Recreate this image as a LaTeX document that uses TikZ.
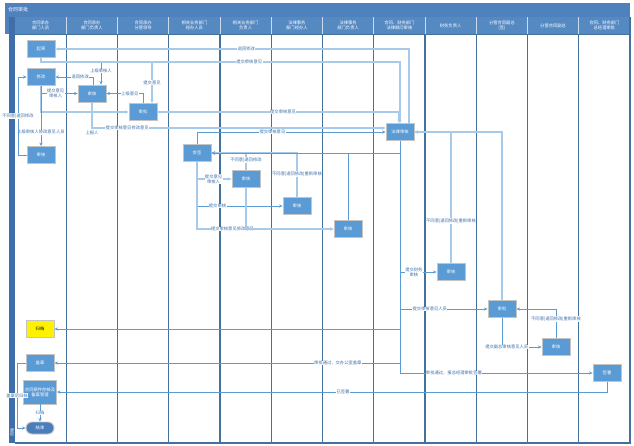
\documentclass[tikz,border=0pt]{standalone}
\usepackage{fontspec}
\newfontfamily\cjk{Noto Sans CJK SC}
\usetikzlibrary{arrows.meta}
\definecolor{titlec}{HTML}{4F81BD}
\definecolor{hdrc}{HTML}{5589C2}
\definecolor{stripc}{HTML}{3F6FA8}
\definecolor{lanec}{HTML}{41719C}
\definecolor{boxfill}{HTML}{5B9BD5}
\definecolor{boxline}{HTML}{C4C4C4}
\definecolor{lightln}{HTML}{A7CAEB}
\definecolor{midln}{HTML}{5B9BD5}
\definecolor{lblc}{HTML}{3D6FA8}
\definecolor{termc}{HTML}{4A7EBB}
\begin{document}
\begin{tikzpicture}[x=1pt,y=-1pt,
  font=\cjk\fontsize{4.3}{5}\selectfont,
  box/.style={draw=boxline, line width=0.9pt, fill=boxfill, text=white,
    minimum width=28pt, minimum height=17pt, inner sep=0pt, align=center},
  hdrtext/.style={text=white, align=center, inner sep=0pt, font=\cjk\fontsize{4.3}{5.2}\selectfont},
  tip/.style={-{Stealth[length=3.5pt,width=3.2pt]}},
  lt/.style={draw=lightln, line width=1.4pt, tip},
  md/.style={draw=midln, line width=0.8pt, tip},
  lbl/.style={fill=white, text=lblc, inner sep=0.4pt, align=center,
    font=\cjk\fontsize{4.3}{4.8}\selectfont}
]
\path[use as bounding box] (0,0) rectangle (634,446);
% frame
\fill[titlec] (5,3) rectangle (630,17);
\fill[titlec] (5,17) rectangle (9,34);
\fill[hdrc] (15,17) rectangle (630,34);
\fill[stripc] (9,17) rectangle (15,443);
\node[text=white, anchor=west, inner sep=0pt, font=\cjk\fontsize{5}{6}\selectfont] (title) at (8,10) {合同审批};
\node[text=white, rotate=90, inner sep=0pt, font=\cjk\fontsize{4}{5}\selectfont] (pool) at (12,432) {流程};
\foreach \i in {1,...,11} {
  \draw[white!70!hdrc, line width=0.6pt] ({15+51.25*\i},17) -- ({15+51.25*\i},34);
  \draw[lanec, line width=1.2pt] ({15+51.25*\i},34) -- ({15+51.25*\i},443);
}
\draw[lanec, line width=1.2pt] (15,443) -- (630,443) -- (630,17);
\draw[lanec, line width=0.8pt] (15,34) -- (630,34);
% lane headers
\node[hdrtext] (h1) at (40.6,25.5) {合同承办\\部门人员};
\node[hdrtext] (h2) at (91.9,25.5) {合同承办\\部门负责人};
\node[hdrtext] (h3) at (143.1,25.5) {合同承办\\分管领导};
\node[hdrtext] (h4) at (194.4,25.5) {相关业务部门\\经办人员};
\node[hdrtext] (h5) at (245.6,25.5) {相关业务部门\\负责人};
\node[hdrtext] (h6) at (296.9,25.5) {法律事务\\部门经办人};
\node[hdrtext] (h7) at (348.1,25.5) {法律事务\\部门负责人};
\node[hdrtext] (h8) at (399.4,25.5) {合同、财务部门\\法律顾问审核};
\node[hdrtext] (h9) at (450.6,25.5) {财务负责人};
\node[hdrtext] (h10) at (501.9,25.5) {分管合同副总\\(签)};
\node[hdrtext] (h11) at (553.1,25.5) {分管合同副总};
\node[hdrtext] (h12) at (604.4,25.5) {合同、财务部门\\总经理审批};
% nodes
\node[box] (n1) at (41,49) {起草};
\node[box] (n2) at (41,77) {修改};
\node[box] (n3) at (41,155) {审核};
\node[box, fill=yellow, text=black] (ny) at (40,329) {归档};
\node[box] (n4) at (40,363) {盖章};
\node[box, minimum width=33pt, minimum height=24pt] (n5) at (40,392) {合同原件存档及\\备案管理};
\node[box, fill=termc, rounded corners=6pt, minimum height=12pt] (nend) at (40,428) {结束};
\node[box] (b1) at (92,93.5) {审核};
\node[box] (c1) at (143,112) {审批};
\node[box] (d1) at (197,153) {会签};
\node[box] (e1) at (246,179) {审核};
\node[box] (f1) at (297,206) {审核};
\node[box] (g1) at (348,229) {审核};
\node[box] (sh) at (400,132) {法律审核};
\node[box] (i1) at (451,272) {审核};
\node[box] (j1) at (502,309) {审批};
\node[box] (k1) at (556,347) {审核};
\node[box] (l1) at (607,373) {签署};
% helper coordinates
\coordinate (bus1) at (0,62);
\coordinate (lx) at (18,0);
\coordinate (lx2) at (17,0);
% connectors
\draw[lt] ([xshift=9pt]sh.north) |- node[lbl,pos=0.73]{退回修改} (n1.east);
\draw[lt] (n1.south) |- node[lbl,pos=0.79]{提交审核意见} (sh.north |- bus1) -- (sh.north);
\draw[md] (n1.south) |- ([xshift=9pt]b1.north |- bus1) -- node[lbl,pos=0.4]{上级审核人} ([xshift=9pt]b1.north);
\draw[lt] (n1.south) |- ([xshift=9pt]c1.north |- bus1) -- node[lbl,pos=0.5]{提交意见} ([xshift=9pt]c1.north);
\draw[md] ([xshift=1pt]b1.north) |- node[lbl,pos=0.67]{退回修改} (n2.east);
\draw[md] (n2.south) |- node[lbl,pos=0.7]{提交意见\\审核人} (b1.west);
\draw[lt] (n2.south) |- (c1.west);
\draw[md] (n2.south) -- node[lbl,pos=0.77]{上级审核人修改意见人员} (n3.north);
\draw[md] (n3.west) -| node[lbl,pos=0.75]{不同意|退回修改} (lx |- n2.west) -- (n2.west);
\draw[md] (c1.north) |- node[lbl,pos=0.68]{上级意见} (b1.east);
\draw[lt] (c1.east) -| node[lbl,pos=0.26]{提交审核意见} ([xshift=-1pt]sh.north);
\draw[lt] (b1.south) |- node[lbl,pos=0.5,yshift=-5pt]{上报人} node[lbl,pos=0.56]{提交审核意见修改意见} ([yshift=4pt]sh.west);
\draw[md] (d1.north) |- node[lbl,pos=0.70]{提交审核意见} (sh.west);
\draw[md] (sh.south) |- (d1.east);
\draw[lt] (e1.north) |- node[lbl,pos=0.3]{不同意|退回修改} (d1.east);
\draw[lt] (f1.north) |- node[lbl,pos=0.26]{不同意|退回修改|重新审核} (d1.east);
\draw[md] (g1.north) |- (d1.east);
\draw[lt] (d1.south) |- node[lbl,pos=0.74]{提交意见\\审核人} (e1.west);
\draw[md] (d1.south) |- node[lbl,pos=0.62]{提交审核} (f1.west);
\draw[lt] (d1.south) |- node[lbl,pos=0.63]{提交审核意见修改意见} (g1.west);
\draw[lt] (e1.south) |- (g1.west);
\draw[lt] (i1.north) |- node[lbl,pos=0.16]{不同意|退回修改|重新审核} (sh.east);
\draw[lt] (j1.north) |- (sh.east);
\draw[md] (sh.south) |- node[lbl,pos=0.69]{提交财务\\审核} (i1.west);
\draw[md] (sh.south) |- node[lbl,pos=0.67]{提交审核意见人员} (j1.west);
\draw[md] (j1.south) |- node[lbl,pos=0.56]{提交副总审核意见人员} (k1.west);
\draw[md] (k1.north) |- node[lbl,pos=0.33]{不同意|退回修改|重新审核} (j1.east);
\draw[md] (sh.south) |- (ny.east);
\draw[md] (sh.south) |- node[lbl,pos=0.59]{审批通过，交办公室盖章} (n4.east);
\draw[md] (sh.south) |- node[lbl,pos=0.64]{审批通过，报总经理审批签署} (l1.west);
\draw[md] (l1.south) |- node[lbl,pos=0.74]{已签署} (n5.east);
\draw[md] (n5.south) -- node[lbl,pos=0.5]{归档} (nend.north);
\draw[md] (n4.west) -- (lx2 |- n4.west) |- node[lbl,pos=0.25]{盖章后归档} (nend.west);
\end{tikzpicture}
\end{document}
